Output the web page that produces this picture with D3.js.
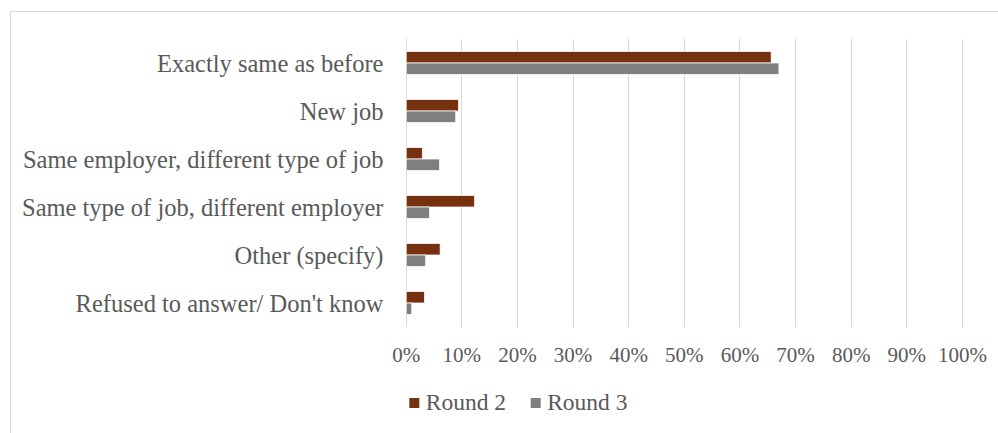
<!DOCTYPE html>
<html>
<head>
<meta charset="utf-8">
<script src="https://cdn.jsdelivr.net/npm/d3@7"></script>
<style>
  html, body { margin: 0; padding: 0; background: #fff; }
  svg { display: block; }
  text { font-family: "Liberation Serif", "Times New Roman", serif; fill: #595959; }
</style>
</head>
<body>
<svg id="chart" width="998" height="433"></svg>
<script>
// Job situation compared with before, by survey round (share of respondents)
const categories = [
  "Exactly same as before",
  "New job",
  "Same employer, different type of job",
  "Same type of job, different employer",
  "Other (specify)",
  "Refused to answer/ Don't know"
];
const seriesNames = ["Round 2", "Round 3"];
const round2 = [0.656, 0.094, 0.029, 0.123, 0.061, 0.033];
const round3 = [0.670, 0.089, 0.060, 0.042, 0.035, 0.010];
const tickValues = [0, 0.1, 0.2, 0.3, 0.4, 0.5, 0.6, 0.7, 0.8, 0.9, 1.0];
const colors = ["#773010", "#7f7f7f"];

const seriesValues = [round2, round3];
const rows = categories.map((c, i) => ({
  category: c,
  values: seriesNames.map((s, j) => ({ series: s, value: seriesValues[j][i] }))
}));

const svg = d3.select("#chart");
const plot = { left: 405.7, right: 962, top: 39, bottom: 327 };

// Outer chart border (runs off the right and bottom edges)
svg.append("rect")
  .attr("x", 10.5).attr("y", 11.5)
  .attr("width", 1000).attr("height", 440)
  .attr("fill", "none")
  .attr("stroke", "#d9d9d9")
  .attr("stroke-width", 1);

const x = d3.scaleLinear().domain([0, 1]).range([plot.left, plot.right]);
const y = d3.scaleBand().domain(categories).range([plot.top, plot.bottom]).paddingInner(0.52).paddingOuter(0.26);
const ySub = d3.scaleBand().domain(seriesNames).range([0, y.bandwidth()]).padding(0);

// Vertical gridlines
svg.append("g")
  .selectAll("line")
  .data(tickValues)
  .join("line")
  .attr("x1", d => Math.round(x(d)) + 0.5)
  .attr("x2", d => Math.round(x(d)) + 0.5)
  .attr("y1", plot.top)
  .attr("y2", plot.bottom)
  .attr("stroke", "#d9d9d9")
  .attr("stroke-width", 1);

// Bars
const groups = svg.append("g")
  .selectAll("g")
  .data(rows)
  .join("g")
  .attr("transform", d => `translate(0,${y(d.category)})`);

groups.selectAll("rect")
  .data(d => d.values)
  .join("rect")
  .attr("x", x(0) + 0.5)
  .attr("y", d => ySub(d.series))
  .attr("width", d => x(d.value) - x(0))
  .attr("height", ySub.bandwidth())
  .attr("fill", (d, i) => colors[i])
  .attr("stroke", "#ffffff")
  .attr("stroke-width", 0.75);

// Category labels
svg.append("g")
  .selectAll("text")
  .data(categories)
  .join("text")
  .attr("x", 383.5)
  .attr("y", d => y(d) + y.bandwidth() / 2 + 8.5)
  .attr("text-anchor", "end")
  .style("font-size", "24.5px")
  .text(d => d);

// Value axis labels
const xAxis = d3.axisBottom(x).tickValues(tickValues).tickFormat(d3.format(".0%")).tickSize(0).tickPadding(0);
const axisG = svg.append("g")
  .attr("transform", `translate(0,${plot.bottom})`)
  .call(xAxis);
axisG.select(".domain").remove();
axisG.selectAll("text")
  .attr("y", 34.5)
  .attr("dy", null)
  .style("font-size", "21px")
  .style("font-family", "'Liberation Serif', 'Times New Roman', serif")
  .attr("fill", "#595959");

// Legend
const legendItems = [
  { name: seriesNames[0], color: colors[0], x: 409.3 },
  { name: seriesNames[1], color: colors[1], x: 530.7 }
];
const legend = svg.append("g").selectAll("g")
  .data(legendItems)
  .join("g")
  .attr("transform", d => `translate(${d.x},398)`);
legend.append("rect")
  .attr("width", 10).attr("height", 10)
  .attr("fill", d => d.color);
legend.append("text")
  .attr("x", 16.5)
  .attr("y", 12)
  .style("font-size", "23.5px")
  .text(d => d.name);
</script>
</body>
</html>
